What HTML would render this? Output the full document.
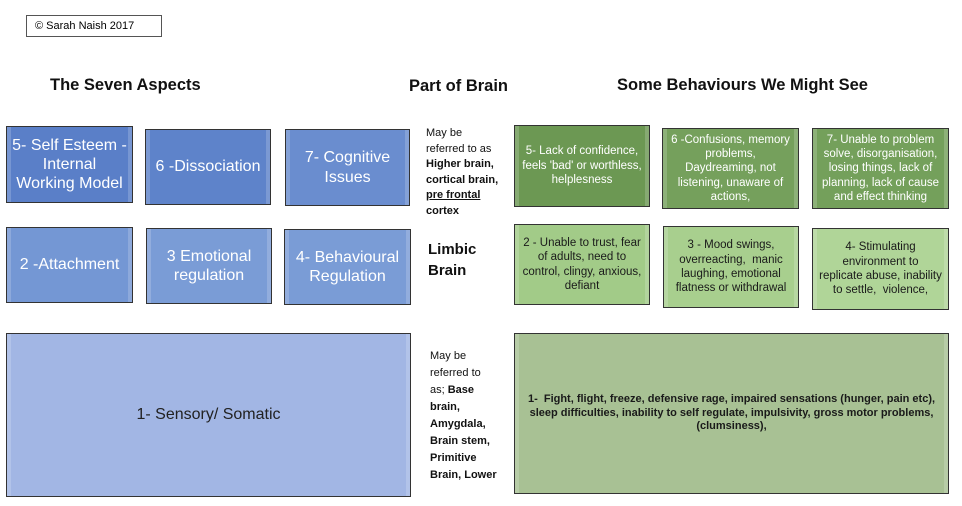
<!DOCTYPE html>
<html><head><meta charset="utf-8"><style>
body{margin:0;width:962px;height:506px;background:#fff;position:relative;overflow:hidden;font-family:"Liberation Sans",sans-serif}
.a{position:absolute}
.b{position:absolute;box-sizing:border-box;border:1.5px solid #333;display:flex;align-items:center;justify-content:center;text-align:center;color:#fff;box-shadow:inset 4px 0 0 rgba(255,255,255,.18),inset -4px 0 0 rgba(255,255,255,.18);line-height:1.2}
.bl{font-size:16px}
.g{color:#1a1a1a;font-size:11.5px;line-height:1.25}
.h{position:absolute;font-weight:bold;font-size:16.5px;color:#111}
.s{position:absolute;font-size:11px;color:#111}
</style></head><body>
<div class="a" style="left:26px;top:15px;width:136px;height:22px;box-sizing:border-box;border:1px solid #555;font-size:11px;line-height:20px;padding-left:8px">© Sarah Naish 2017</div>
<div class="h" style="left:50px;top:76px">The Seven Aspects</div>
<div class="h" style="left:409px;top:77px">Part of Brain</div>
<div class="h" style="left:617px;top:76px">Some Behaviours We Might See</div>

<div class="b bl" style="left:6px;top:126px;width:127px;height:77px;background:#5a7fc8">5- Self Esteem -<br>Internal<br>Working Model</div>
<div class="b bl" style="left:145px;top:129px;width:126px;height:76px;background:#5e83ca">6 -Dissociation</div>
<div class="b bl" style="left:285px;top:129px;width:125px;height:77px;background:#6a8dcf">7- Cognitive<br>Issues</div>
<div class="b bl" style="left:6px;top:227px;width:127px;height:76px;background:#7497d4">2 -Attachment</div>
<div class="b bl" style="left:146px;top:228px;width:126px;height:76px;background:#7a9cd6">3 Emotional<br>regulation</div>
<div class="b bl" style="left:284px;top:229px;width:127px;height:76px;background:#7a9cd6">4- Behavioural<br>Regulation</div>
<div class="b bl" style="left:6px;top:333px;width:405px;height:164px;background:#a2b6e4;color:#222">1- Sensory/ Somatic</div>

<div class="s" style="left:426px;top:126px;line-height:15.6px">May be<br>referred to as<br><b>Higher brain,<br>cortical brain,<br><u>pre frontal</u><br>cortex</b></div>
<div class="a" style="left:428px;top:239px;font-weight:bold;font-size:15px;line-height:21px;color:#111">Limbic<br>Brain</div>
<div class="s" style="left:430px;top:348px;line-height:17px">May be<br>referred to<br>as; <b>Base<br>brain,<br>Amygdala,<br>Brain stem,<br>Primitive<br>Brain, Lower</b></div>

<div class="b g" style="left:514px;top:125px;width:136px;height:82px;background:#6c9853;color:#fff">5- Lack of confidence,<br>feels 'bad' or worthless,<br>helplesness</div>
<div class="b g" style="left:662px;top:128px;width:137px;height:81px;background:#75a05c;color:#fff">6 -Confusions, memory<br>problems,<br>Daydreaming, not<br>listening, unaware of<br>actions,</div>
<div class="b g" style="left:812px;top:128px;width:137px;height:81px;background:#74a05b;color:#fff">7- Unable to problem<br>solve, disorganisation,<br>losing things, lack of<br>planning, lack of cause<br>and effect thinking</div>
<div class="b g" style="left:514px;top:224px;width:136px;height:81px;background:#a2cb88">2 - Unable to trust, fear<br>of adults, need to<br>control, clingy, anxious,<br>defiant</div>
<div class="b g" style="left:663px;top:226px;width:136px;height:82px;background:#a8cf8e">3 - Mood swings,<br>overreacting, &nbsp;manic<br>laughing, emotional<br>flatness or withdrawal</div>
<div class="b g" style="left:812px;top:228px;width:137px;height:82px;background:#b0d598">4- Stimulating<br>environment to<br>replicate abuse, inability<br>to settle, &nbsp;violence,</div>
<div class="b g" style="left:514px;top:333px;width:435px;height:161px;background:#a8c194;font-weight:bold;font-size:11px;padding:0 8px">1- &nbsp;Fight, flight, freeze, defensive rage, impaired sensations (hunger, pain etc),<br>sleep difficulties, inability to self regulate, impulsivity, gross motor problems,<br>(clumsiness),</div>
</body></html>
